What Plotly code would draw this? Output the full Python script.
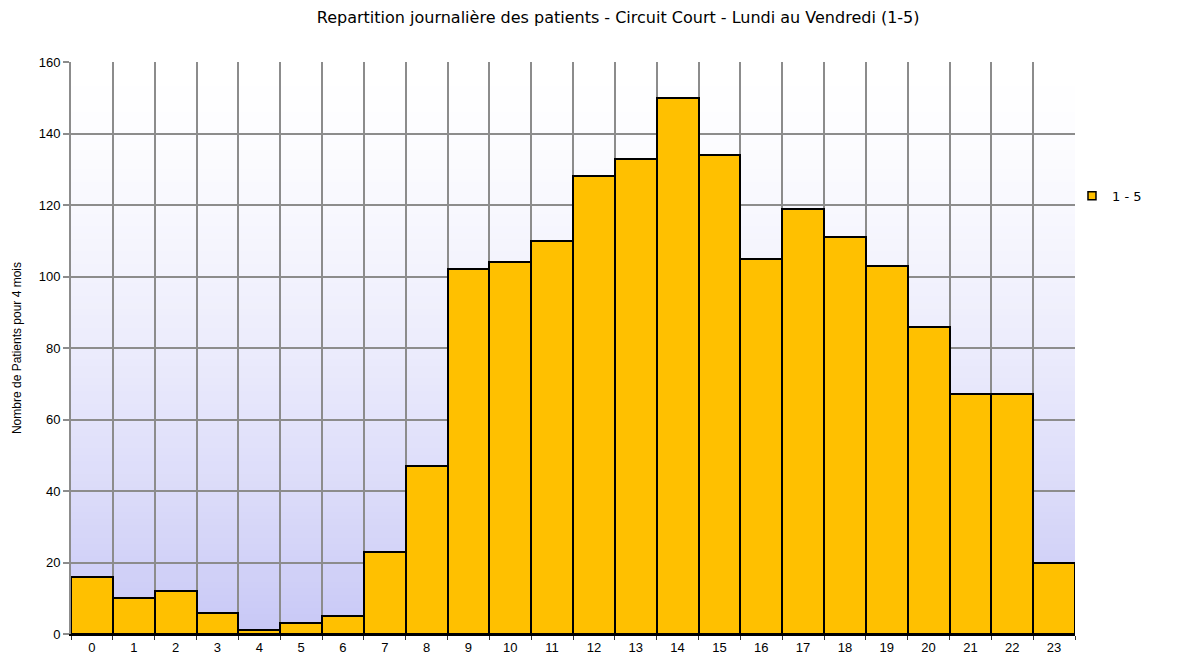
import plotly.graph_objects as go

hours = [str(h) for h in range(24)]
patients = [16, 10, 12, 6, 1, 3, 5, 23, 47, 102, 104, 110, 128, 133, 150, 134, 105, 119, 111, 103, 86, 67, 67, 20]
series_name = "1 - 5"
title_text = "Repartition journalière des patients - Circuit Court - Lundi au Vendredi (1-5)"
y_title = "Nombre de Patients pour 4 mois"

fig = go.Figure()
fig.add_trace(go.Bar(
    x=hours, y=patients, name=series_name,
    marker=dict(color="#FFC000", line=dict(color="black", width=2)),
    showlegend=False,
))
# legend entry with a small square symbol
fig.add_trace(go.Scatter(
    x=[None], y=[None], mode="markers", name=series_name,
    marker=dict(symbol="square", size=8, color="#FFC000", line=dict(color="black", width=1.5)),
    showlegend=True,
))

# vertical gradient background (white at top -> lavender at bottom)
n = 90
top = (255, 255, 255)
bot = (200, 200, 246)
shapes = []
for i in range(n):
    t = ((i + 0.5) / n) ** 1.5
    c = tuple(round(top[k] + (bot[k] - top[k]) * t) for k in range(3))
    y1 = 1 - i / n
    y0 = 1 - (i + 1) / n
    shapes.append(dict(type="rect", xref="x domain", yref="y domain",
                       x0=0, x1=1, y0=y0, y1=min(1, y1 + 0.002), layer="below",
                       line=dict(width=0), fillcolor="rgb(%d,%d,%d)" % c))

# page body has an 8px margin, so the figure is sized to fill the rest of the window
W, H = 1191, 649
fig.update_layout(
    width=W, height=H,
    margin=dict(l=63, r=124, t=54, b=23, autoexpand=False),
    paper_bgcolor="white", plot_bgcolor="white",
    font=dict(family="Liberation Sans, Arial, sans-serif", size=13, color="black"),
    title=dict(text=title_text, x=0.545, xref="paper", xanchor="center",
               y=1 - 9 / H, yanchor="middle",
               font=dict(size=16, color="black", family="DejaVu Sans, Liberation Sans, Arial")),
    bargap=0,
    shapes=shapes,
    legend=dict(x=0.997, y=0.766, xanchor="left", yanchor="middle",
                font=dict(size=13, family="DejaVu Sans, Liberation Sans, Arial"),
                bgcolor="rgba(0,0,0,0)",
                itemwidth=30, tracegroupgap=0),
    showlegend=True,
)
fig.update_xaxes(
    type="category", tickson="boundaries", ticks="outside", ticklen=4,
    tickcolor="#333333", tickwidth=1, automargin=False,
    showgrid=True, gridcolor="#8c8c8c", gridwidth=2,
    showline=True, linecolor="black", linewidth=2,
    range=[-0.5, 23.5], tickfont=dict(size=13),
)
fig.update_yaxes(
    range=[0, 160], dtick=20, ticks="outside", ticklen=6, automargin=False,
    tickcolor="#8c8c8c", tickwidth=2,
    showgrid=True, gridcolor="#8c8c8c", gridwidth=2,
    showline=True, linecolor="#8c8c8c", linewidth=2,
    zeroline=False, tickfont=dict(size=13),
    title=dict(text=y_title, font=dict(size=12, family="Liberation Sans Narrow, Liberation Sans, Arial"), standoff=14),
)

fig.write_html("out.html")
